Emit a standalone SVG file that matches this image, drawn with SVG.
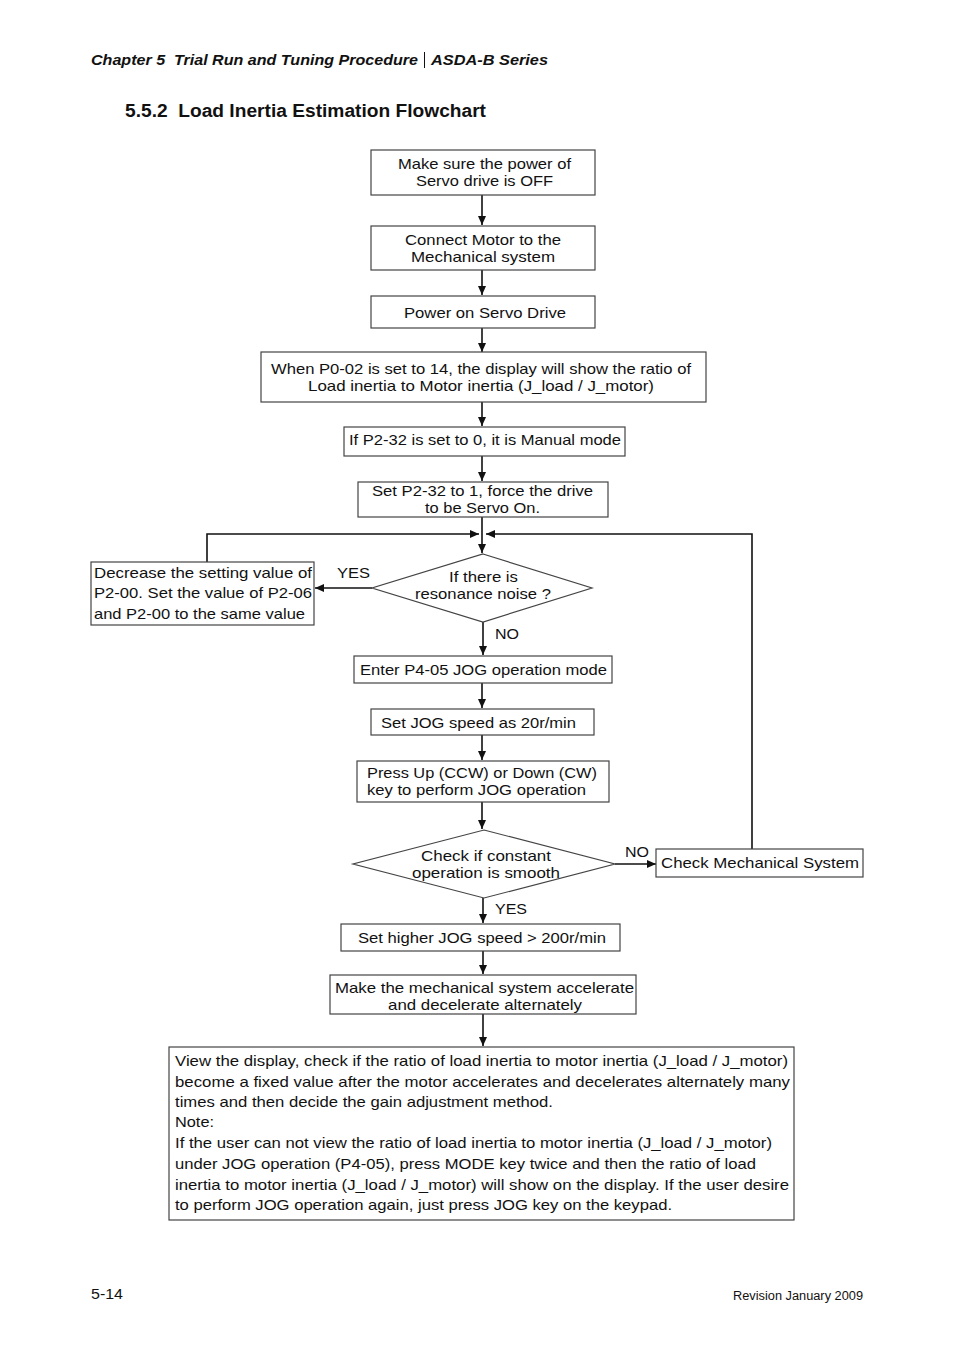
<svg xmlns="http://www.w3.org/2000/svg" width="954" height="1351" viewBox="0 0 954 1351">
<defs>
<marker id="ah" viewBox="0 0 10 10" refX="10" refY="5" markerWidth="9" markerHeight="8" markerUnits="userSpaceOnUse" orient="auto" preserveAspectRatio="none"><path d="M0,0 L10,5 L0,10 z" fill="#111"/></marker>
<style>
.bx{fill:#fff;stroke:#444;stroke-width:1.2}
.t{font-family:"Liberation Sans",Arial,sans-serif;font-size:15px;fill:#111}
.ln{fill:none;stroke:#111;stroke-width:1.6}
.ar{fill:none;stroke:#111;stroke-width:1.6;marker-end:url(#ah)}
</style>
</defs>
<rect width="954" height="1351" fill="#fff"/>
<text x="91" y="65" xml:space="preserve" font-family="Liberation Sans,Arial,sans-serif" font-size="15" font-weight="bold" font-style="italic" fill="#111" textLength="327" lengthAdjust="spacingAndGlyphs">Chapter 5  Trial Run and Tuning Procedure</text>
<line x1="424.5" y1="52" x2="424.5" y2="68" stroke="#111" stroke-width="1"/>
<text x="431" y="65" font-family="Liberation Sans,Arial,sans-serif" font-size="15" font-weight="bold" font-style="italic" fill="#111" textLength="117" lengthAdjust="spacingAndGlyphs">ASDA-B Series</text>
<text x="125" y="117" xml:space="preserve" font-family="Liberation Sans,Arial,sans-serif" font-size="18" font-weight="bold" fill="#111" textLength="361" lengthAdjust="spacingAndGlyphs">5.5.2  Load Inertia Estimation Flowchart</text>

<g id="connectors">
<line class="ar" x1="482" y1="195" x2="482" y2="225"/>
<line class="ar" x1="482" y1="270" x2="482" y2="295"/>
<line class="ar" x1="482" y1="328" x2="482" y2="352"/>
<line class="ar" x1="482" y1="402" x2="482" y2="426"/>
<line class="ar" x1="482" y1="456" x2="482" y2="481"/>
<line class="ar" x1="482" y1="517" x2="482" y2="553"/>
<polyline class="ar" points="207,562 207,534 479,534"/>
<polyline class="ar" points="752,849 752,534 486,534"/>
<line class="ar" x1="372" y1="588" x2="315" y2="588"/>
<line class="ar" x1="483" y1="622" x2="483" y2="655"/>
<line class="ar" x1="482" y1="683" x2="482" y2="708"/>
<line class="ar" x1="482" y1="735" x2="482" y2="760"/>
<line class="ar" x1="482" y1="802" x2="482" y2="829"/>
<line class="ar" x1="615" y1="864" x2="656" y2="864"/>
<line class="ar" x1="483" y1="898" x2="483" y2="923"/>
<line class="ar" x1="483" y1="951" x2="483" y2="974"/>
<line class="ar" x1="483" y1="1014" x2="483" y2="1046"/>
<text class="t" x="337" y="578" textLength="33" lengthAdjust="spacingAndGlyphs">YES</text>
<text class="t" x="495" y="639" textLength="24" lengthAdjust="spacingAndGlyphs">NO</text>
<text class="t" x="625" y="857" textLength="24" lengthAdjust="spacingAndGlyphs">NO</text>
<text class="t" x="495" y="914" textLength="32" lengthAdjust="spacingAndGlyphs">YES</text>
</g>

<g id="n1"><rect class="bx" x="371" y="150" width="224" height="45"/>
<text class="t" x="398" y="169" textLength="173" lengthAdjust="spacingAndGlyphs">Make sure the power of</text>
<text class="t" x="416" y="186" textLength="137" lengthAdjust="spacingAndGlyphs">Servo drive is OFF</text></g>

<g id="n2"><rect class="bx" x="371" y="226" width="224" height="44"/>
<text class="t" x="405" y="245" textLength="156" lengthAdjust="spacingAndGlyphs">Connect Motor to the</text>
<text class="t" x="411" y="262" textLength="144" lengthAdjust="spacingAndGlyphs">Mechanical system</text></g>

<g id="n3"><rect class="bx" x="371" y="296" width="224" height="32"/>
<text class="t" x="404" y="318" textLength="162" lengthAdjust="spacingAndGlyphs">Power on Servo Drive</text></g>

<g id="n4"><rect class="bx" x="261" y="352" width="445" height="50"/>
<text class="t" x="271" y="374" textLength="420" lengthAdjust="spacingAndGlyphs">When P0-02 is set to 14, the display will show the ratio of</text>
<text class="t" x="308" y="391" textLength="346" lengthAdjust="spacingAndGlyphs">Load inertia to Motor inertia (J_load / J_motor)</text></g>

<g id="n5"><rect class="bx" x="344" y="427" width="281" height="29"/>
<text class="t" x="349" y="445" textLength="272" lengthAdjust="spacingAndGlyphs">If P2-32 is set to 0, it is Manual mode</text></g>

<g id="n6"><rect class="bx" x="358" y="482" width="250" height="35"/>
<text class="t" x="372" y="496" textLength="221" lengthAdjust="spacingAndGlyphs">Set P2-32 to 1, force the drive</text>
<text class="t" x="425" y="513" textLength="115" lengthAdjust="spacingAndGlyphs">to be Servo On.</text></g>

<g id="d1"><polygon class="bx" points="483,554 592,588 483,622 372,588"/>
<text class="t" x="449" y="582" textLength="69" lengthAdjust="spacingAndGlyphs">If there is</text>
<text class="t" x="415" y="599" textLength="136" lengthAdjust="spacingAndGlyphs">resonance noise ?</text></g>

<g id="n7"><rect class="bx" x="91" y="562" width="223" height="63"/>
<text class="t" x="94" y="578" textLength="218" lengthAdjust="spacingAndGlyphs">Decrease the setting value of</text>
<text class="t" x="94" y="598" textLength="218" lengthAdjust="spacingAndGlyphs">P2-00. Set the value of P2-06</text>
<text class="t" x="94" y="619" textLength="211" lengthAdjust="spacingAndGlyphs">and P2-00 to the same value</text></g>

<g id="n8"><rect class="bx" x="354" y="656" width="258" height="27"/>
<text class="t" x="360" y="675" textLength="247" lengthAdjust="spacingAndGlyphs">Enter P4-05 JOG operation mode</text></g>

<g id="n9"><rect class="bx" x="371" y="709" width="223" height="26"/>
<text class="t" x="381" y="728" textLength="195" lengthAdjust="spacingAndGlyphs">Set JOG speed as 20r/min</text></g>

<g id="n10"><rect class="bx" x="357" y="761" width="252" height="41"/>
<text class="t" x="367" y="778" textLength="230" lengthAdjust="spacingAndGlyphs">Press Up (CCW) or Down (CW)</text>
<text class="t" x="367" y="795" textLength="219" lengthAdjust="spacingAndGlyphs">key to perform JOG operation</text></g>

<g id="d2"><polygon class="bx" points="484,830 615,864 484,898 353,864"/>
<text class="t" x="421" y="861" textLength="130" lengthAdjust="spacingAndGlyphs">Check if constant</text>
<text class="t" x="412" y="878" textLength="148" lengthAdjust="spacingAndGlyphs">operation is smooth</text></g>

<g id="n11"><rect class="bx" x="656" y="849" width="207" height="28"/>
<text class="t" x="661" y="868" textLength="198" lengthAdjust="spacingAndGlyphs">Check Mechanical System</text></g>

<g id="n12"><rect class="bx" x="341" y="924" width="279" height="27"/>
<text class="t" x="358" y="943" textLength="248" lengthAdjust="spacingAndGlyphs">Set higher JOG speed &gt; 200r/min</text></g>

<g id="n13"><rect class="bx" x="330" y="975" width="306" height="39"/>
<text class="t" x="335" y="993" textLength="299" lengthAdjust="spacingAndGlyphs">Make the mechanical system accelerate</text>
<text class="t" x="388" y="1010" textLength="194" lengthAdjust="spacingAndGlyphs">and decelerate alternately</text></g>

<g id="n14"><rect class="bx" x="169" y="1047" width="625" height="173"/>
<text class="t" x="175" y="1066" textLength="613" lengthAdjust="spacingAndGlyphs">View the display, check if the ratio of load inertia to motor inertia (J_load / J_motor)</text>
<text class="t" x="175" y="1087" textLength="615" lengthAdjust="spacingAndGlyphs">become a fixed value after the motor accelerates and decelerates alternately many</text>
<text class="t" x="175" y="1107" textLength="378" lengthAdjust="spacingAndGlyphs">times and then decide the gain adjustment method.</text>
<text class="t" x="175" y="1127" textLength="39" lengthAdjust="spacingAndGlyphs">Note:</text>
<text class="t" x="175" y="1148" textLength="597" lengthAdjust="spacingAndGlyphs">If the user can not view the ratio of load inertia to motor inertia (J_load / J_motor)</text>
<text class="t" x="175" y="1169" textLength="581" lengthAdjust="spacingAndGlyphs">under JOG operation (P4-05), press MODE key twice and then the ratio of load</text>
<text class="t" x="175" y="1190" textLength="614" lengthAdjust="spacingAndGlyphs">inertia to motor inertia (J_load / J_motor) will show on the display. If the user desire</text>
<text class="t" x="175" y="1210" textLength="497" lengthAdjust="spacingAndGlyphs">to perform JOG operation again, just press JOG key on the keypad.</text></g>

<text x="91" y="1299" font-family="Liberation Sans,Arial,sans-serif" font-size="15" fill="#111" textLength="32" lengthAdjust="spacingAndGlyphs">5-14</text>
<text x="733" y="1300" font-family="Liberation Sans,Arial,sans-serif" font-size="12" fill="#111" textLength="130" lengthAdjust="spacingAndGlyphs">Revision January 2009</text>
</svg>
